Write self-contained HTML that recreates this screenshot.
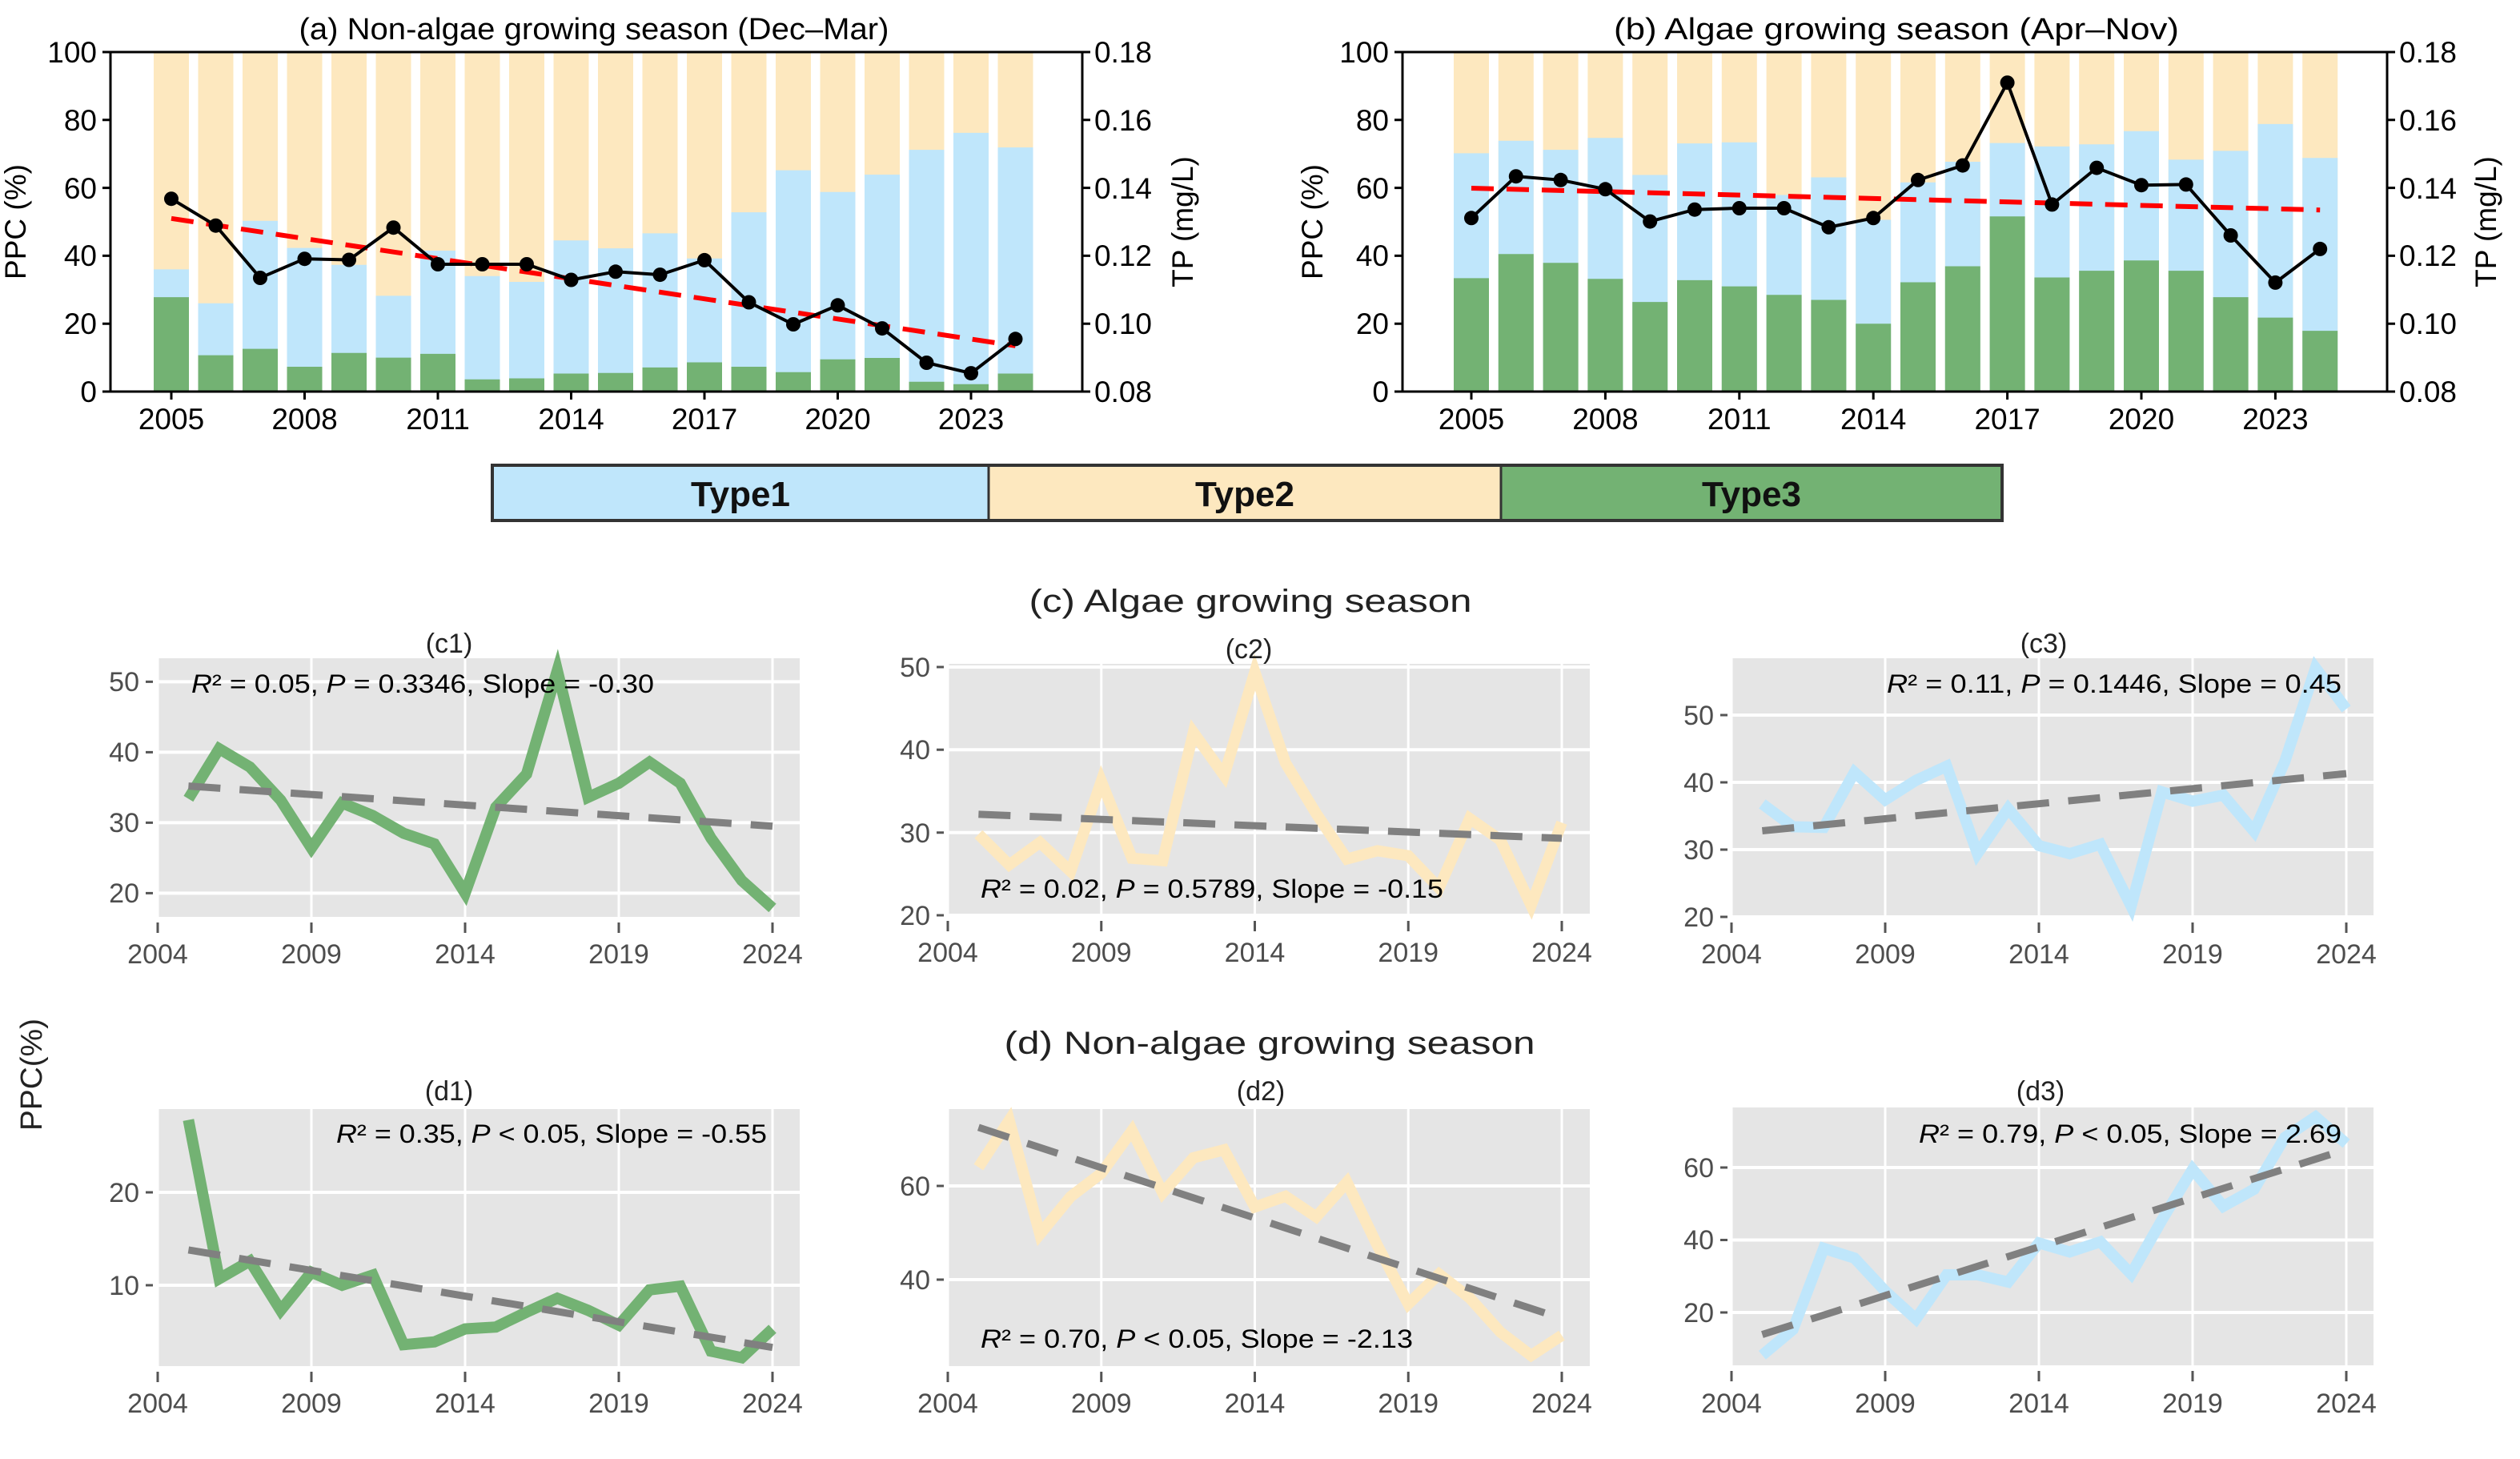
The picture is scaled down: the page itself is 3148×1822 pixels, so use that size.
<!DOCTYPE html>
<html><head><meta charset="utf-8">
<style>html,body{margin:0;padding:0;background:#fff}svg{display:block}</style>
</head><body>
<svg xmlns="http://www.w3.org/2000/svg" width="3148" height="1822" viewBox="0 0 3148 1822" font-family="Liberation Sans, Arial, sans-serif">
<!-- ===== Panel (a) ===== -->
<g stroke-width="44" fill="none">
<path stroke="#fde8bf" d="M214 65V489M269.5 65V489M325 65V489M380.5 65V489M436 65V489M491.5 65V489M547 65V489M602.5 65V489M658 65V489M713.5 65V489M769 65V489M824.5 65V489M880 65V489M935.5 65V489M991 65V489M1046.5 65V489M1102 65V489M1157.5 65V489M1213 65V489M1268.5 65V489"/>
<path stroke="#bfe6fb" d="M214 336.4V489M269.5 378.8V489M325 275.7V489M380.5 309.6V489M436 330.8V489M491.5 369.4V489M547 313V489M602.5 344.8V489M658 352V489M713.5 300.3V489M769 310.1V489M824.5 291.4V489M880 322.8V489M935.5 265.1V489M991 212.6V489M1046.5 239.7V489M1102 218.1V489M1157.5 187.1V489M1213 165.9V489M1268.5 184.1V489"/>
<path stroke="#73b273" d="M214 371.1V489M269.5 443.6V489M325 435.6V489M380.5 458V489M436 440.7V489M491.5 446.6V489M547 441.9V489M602.5 473.7V489M658 472.5V489M713.5 466.5V489M769 465.7V489M824.5 458.9V489M880 452.5V489M935.5 458V489M991 464.8V489M1046.5 448.7V489M1102 447V489M1157.5 476.7V489M1213 479.7V489M1268.5 466.5V489"/>
</g>
<line x1="214" y1="272.8" x2="1268.5" y2="431.8" stroke="#f00" stroke-width="6" stroke-dasharray="28,16"/>
<polyline fill="none" stroke="#000" stroke-width="4" points="214,248.2 269.5,281.7 325,347 380.5,323.2 436,324.5 491.5,284.2 547,330 602.5,330 658,330 713.5,349.5 769,339.3 824.5,343.1 880,324.9 935.5,377.5 991,405 1046.5,381.3 1102,410.1 1157.5,453 1213,466.1 1268.5,423.3"/>
<g fill="#000">
<circle cx="214" cy="248.2" r="9"/><circle cx="269.5" cy="281.7" r="9"/><circle cx="325" cy="347" r="9"/><circle cx="380.5" cy="323.2" r="9"/><circle cx="436" cy="324.5" r="9"/><circle cx="491.5" cy="284.2" r="9"/><circle cx="547" cy="330" r="9"/><circle cx="602.5" cy="330" r="9"/><circle cx="658" cy="330" r="9"/><circle cx="713.5" cy="349.5" r="9"/><circle cx="769" cy="339.3" r="9"/><circle cx="824.5" cy="343.1" r="9"/><circle cx="880" cy="324.9" r="9"/><circle cx="935.5" cy="377.5" r="9"/><circle cx="991" cy="405" r="9"/><circle cx="1046.5" cy="381.3" r="9"/><circle cx="1102" cy="410.1" r="9"/><circle cx="1157.5" cy="453" r="9"/><circle cx="1213" cy="466.1" r="9"/><circle cx="1268.5" cy="423.3" r="9"/>
</g>
<rect x="138" y="65" width="1214" height="424" fill="none" stroke="#000" stroke-width="3"/>
<path stroke="#000" stroke-width="3" d="M128 489H138M128 404.2H138M128 319.4H138M128 234.6H138M128 149.8H138M128 65H138M1352 489H1362M1352 404.2H1362M1352 319.4H1362M1352 234.6H1362M1352 149.8H1362M1352 65H1362M214 489V499M380.5 489V499M547 489V499M713.5 489V499M880 489V499M1046.5 489V499M1213 489V499"/>
<g font-size="37" text-anchor="end">
<text x="121" y="502">0</text><text x="121" y="417">20</text><text x="121" y="332">40</text><text x="121" y="248">60</text><text x="121" y="163">80</text><text x="121" y="78">100</text>
</g>
<g font-size="37">
<text x="1367" y="502">0.08</text><text x="1367" y="417">0.10</text><text x="1367" y="332">0.12</text><text x="1367" y="248">0.14</text><text x="1367" y="163">0.16</text><text x="1367" y="78">0.18</text>
</g>
<g font-size="37" text-anchor="middle">
<text x="214" y="536">2005</text><text x="380.5" y="536">2008</text><text x="547" y="536">2011</text><text x="713.5" y="536">2014</text><text x="880" y="536">2017</text><text x="1046.5" y="536">2020</text><text x="1213" y="536">2023</text>
<text x="742" y="49" font-size="38" textLength="737" lengthAdjust="spacingAndGlyphs">(a) Non-algae growing season (Dec–Mar)</text>
<text x="32" y="277" transform="rotate(-90 32 277)">PPC (%)</text>
<text x="1490" y="277" transform="rotate(-90 1490 277)">TP (mg/L)</text>
</g>

<!-- ===== Panel (b) ===== -->
<g stroke-width="44" fill="none">
<path stroke="#fde8bf" d="M1838 65V489M1893.8 65V489M1949.6 65V489M2005.4 65V489M2061.2 65V489M2117 65V489M2172.8 65V489M2228.6 65V489M2284.4 65V489M2340.2 65V489M2396 65V489M2451.8 65V489M2507.6 65V489M2563.4 65V489M2619.2 65V489M2675 65V489M2730.8 65V489M2786.6 65V489M2842.4 65V489M2898.2 65V489"/>
<path stroke="#bfe6fb" d="M1838 191.4V489M1893.8 175.7V489M1949.6 187.1V489M2005.4 172.3V489M2061.2 218.5V489M2117 179.1V489M2172.8 177.8V489M2228.6 243.5V489M2284.4 221.5V489M2340.2 274.5V489M2396 227.8V489M2451.8 202V489M2507.6 178.6V489M2563.4 182.9V489M2619.2 180.3V489M2675 163.8V489M2730.8 199.4V489M2786.6 188.4V489M2842.4 154.9V489M2898.2 197.3V489"/>
<path stroke="#73b273" d="M1838 347.4V489M1893.8 317.3V489M1949.6 328.3V489M2005.4 348.2V489M2061.2 377.1V489M2117 349.9V489M2172.8 357.6V489M2228.6 368.2V489M2284.4 374.5V489M2340.2 404.2V489M2396 352.5V489M2451.8 332.5V489M2507.6 270.2V489M2563.4 346.5V489M2619.2 338.1V489M2675 325.3V489M2730.8 338.1V489M2786.6 371.1V489M2842.4 396.6V489M2898.2 413.1V489"/>
</g>
<line x1="1838" y1="235" x2="2898.2" y2="262.2" stroke="#f00" stroke-width="6" stroke-dasharray="28,16"/>
<polyline fill="none" stroke="#000" stroke-width="4" points="1838,272.3 1893.8,220.2 1949.6,224.8 2005.4,236.3 2061.2,276.6 2117,261.7 2172.8,260 2228.6,260 2284.4,283.8 2340.2,272.3 2396,224.8 2451.8,206.6 2507.6,103.2 2563.4,255.4 2619.2,209.6 2675,231.2 2730.8,230.4 2786.6,294 2842.4,352.9 2898.2,310.9"/>
<g fill="#000">
<circle cx="1838" cy="272.3" r="9"/><circle cx="1893.8" cy="220.2" r="9"/><circle cx="1949.6" cy="224.8" r="9"/><circle cx="2005.4" cy="236.3" r="9"/><circle cx="2061.2" cy="276.6" r="9"/><circle cx="2117" cy="261.7" r="9"/><circle cx="2172.8" cy="260" r="9"/><circle cx="2228.6" cy="260" r="9"/><circle cx="2284.4" cy="283.8" r="9"/><circle cx="2340.2" cy="272.3" r="9"/><circle cx="2396" cy="224.8" r="9"/><circle cx="2451.8" cy="206.6" r="9"/><circle cx="2507.6" cy="103.2" r="9"/><circle cx="2563.4" cy="255.4" r="9"/><circle cx="2619.2" cy="209.6" r="9"/><circle cx="2675" cy="231.2" r="9"/><circle cx="2730.8" cy="230.4" r="9"/><circle cx="2786.6" cy="294" r="9"/><circle cx="2842.4" cy="352.9" r="9"/><circle cx="2898.2" cy="310.9" r="9"/>
</g>
<rect x="1752" y="65" width="1230" height="424" fill="none" stroke="#000" stroke-width="3"/>
<path stroke="#000" stroke-width="3" d="M1742 489H1752M1742 404.2H1752M1742 319.4H1752M1742 234.6H1752M1742 149.8H1752M1742 65H1752M2982 489H2992M2982 404.2H2992M2982 319.4H2992M2982 234.6H2992M2982 149.8H2992M2982 65H2992M1838 489V499M2005.4 489V499M2172.8 489V499M2340.2 489V499M2507.6 489V499M2675 489V499M2842.4 489V499"/>
<g font-size="37" text-anchor="end">
<text x="1735" y="502">0</text><text x="1735" y="417">20</text><text x="1735" y="332">40</text><text x="1735" y="248">60</text><text x="1735" y="163">80</text><text x="1735" y="78">100</text>
</g>
<g font-size="37">
<text x="2997" y="502">0.08</text><text x="2997" y="417">0.10</text><text x="2997" y="332">0.12</text><text x="2997" y="248">0.14</text><text x="2997" y="163">0.16</text><text x="2997" y="78">0.18</text>
</g>
<g font-size="37" text-anchor="middle">
<text x="1838" y="536">2005</text><text x="2005.4" y="536">2008</text><text x="2172.8" y="536">2011</text><text x="2340.2" y="536">2014</text><text x="2507.6" y="536">2017</text><text x="2675" y="536">2020</text><text x="2842.4" y="536">2023</text>
<text x="2369" y="49" font-size="38" textLength="706" lengthAdjust="spacingAndGlyphs">(b) Algae growing season (Apr–Nov)</text>
<text x="1652" y="277" transform="rotate(-90 1652 277)">PPC (%)</text>
<text x="3118" y="277" transform="rotate(-90 3118 277)">TP (mg/L)</text>
</g>

<!-- ===== Legend ===== -->
<rect x="615" y="581" width="620" height="69" fill="#bfe6fb"/>
<rect x="1235" y="581" width="640" height="69" fill="#fde8bf"/>
<rect x="1875" y="581" width="626" height="69" fill="#73b273"/>
<rect x="615" y="581" width="1886" height="69" fill="none" stroke="#333" stroke-width="4"/>
<path stroke="#333" stroke-width="3" d="M1235 581V650M1875 581V650"/>
<g font-size="44" font-weight="bold" text-anchor="middle" fill="#111">
<text x="925" y="632">Type1</text><text x="1555" y="632">Type2</text><text x="2188" y="632">Type3</text>
</g>

<!-- ===== Section titles ===== -->
<text x="1562" y="764" font-size="40" text-anchor="middle" fill="#222" textLength="553" lengthAdjust="spacingAndGlyphs">(c) Algae growing season</text>
<text x="1586" y="1316" font-size="40" text-anchor="middle" fill="#222" textLength="663" lengthAdjust="spacingAndGlyphs">(d) Non-algae growing season</text>
<text x="52" y="1342" font-size="38" text-anchor="middle" fill="#222" transform="rotate(-90 52 1342)" textLength="140" lengthAdjust="spacingAndGlyphs">PPC(%)</text>

<!-- ===== c1 ===== -->
<rect x="196" y="822" width="803" height="323" fill="#e5e5e5"/>
<path stroke="#fff" stroke-width="4" d="M196 1115.4H999M196 1027.4H999M196 939.4H999M196 851.4H999"/>
<path stroke="#fff" stroke-width="3" d="M197 822V1145M389 822V1145M581 822V1145M773 822V1145M965 822V1145"/>
<path stroke="#555" stroke-width="3" d="M182 1115.4H191M182 1027.4H191M182 939.4H191M182 851.4H191M197 1152V1165M389 1152V1165M581 1152V1165M773 1152V1165M965 1152V1165"/>
<g font-size="34" fill="#4d4d4d" text-anchor="end"><text x="174" y="1127">20</text><text x="174" y="1039">30</text><text x="174" y="951">40</text><text x="174" y="863">50</text></g>
<g font-size="34" fill="#4d4d4d" text-anchor="middle"><text x="197" y="1203">2004</text><text x="389" y="1203">2009</text><text x="581" y="1203">2014</text><text x="773" y="1203">2019</text><text x="965" y="1203">2024</text></g>
<polyline transform="matrix(38.4 0 0 -8.8 235.4 1291.4)" vector-effect="non-scaling-stroke" fill="none" stroke="#73b273" stroke-width="14" points="0,33.4 1,40.5 2,37.9 3,33.2 4,26.4 5,32.8 6,31 7,28.5 8,27 9,20 10,32.2 11,36.9 12,51.6 13,33.6 14,35.6 15,38.6 16,35.6 17,27.8 18,21.8 19,17.9"/>
<line x1="235.4" y1="981.6" x2="965" y2="1031.8" stroke="#808080" stroke-width="9" stroke-dasharray="40,24"/>
<text x="239" y="865" font-size="32" textLength="578" lengthAdjust="spacingAndGlyphs"><tspan font-style="italic">R</tspan>² = 0.05, <tspan font-style="italic">P</tspan> = 0.3346, Slope = -0.30</text>
<text x="561" y="815" font-size="34" text-anchor="middle" fill="#222">(c1)</text>

<!-- ===== c2 ===== -->
<rect x="1184" y="829" width="802" height="314" fill="#e5e5e5"/>
<path stroke="#fff" stroke-width="4" d="M1184 1143H1986M1184 1039.7H1986M1184 936.3H1986M1184 833H1986"/>
<path stroke="#fff" stroke-width="3" d="M1184 829V1143M1375.75 829V1143M1567.5 829V1143M1759.25 829V1143M1951 829V1143"/>
<path stroke="#555" stroke-width="3" d="M1170 1143H1179M1170 1039.7H1179M1170 936.3H1179M1170 833H1179M1184 1150V1163M1375.75 1150V1163M1567.5 1150V1163M1759.25 1150V1163M1951 1150V1163"/>
<g font-size="34" fill="#4d4d4d" text-anchor="end"><text x="1162" y="1155">20</text><text x="1162" y="1052">30</text><text x="1162" y="948">40</text><text x="1162" y="845">50</text></g>
<g font-size="34" fill="#4d4d4d" text-anchor="middle"><text x="1184" y="1201">2004</text><text x="1375.75" y="1201">2009</text><text x="1567.5" y="1201">2014</text><text x="1759.25" y="1201">2019</text><text x="1951" y="1201">2024</text></g>
<polyline transform="matrix(38.35 0 0 -10.333 1222.35 1349.67)" vector-effect="non-scaling-stroke" fill="none" stroke="#fde8bf" stroke-width="14" points="0,29.8 1,26.1 2,28.8 3,25.3 4,36.2 5,26.9 6,26.6 7,42.1 8,36.9 9,49.4 10,38.4 11,32.3 12,26.8 13,27.8 14,27.2 15,23.3 16,31.7 17,29.1 18,21.2 19,31.2"/>
<line x1="1222.35" y1="1016.9" x2="1951" y2="1046.9" stroke="#808080" stroke-width="9" stroke-dasharray="40,24"/>
<text x="1225" y="1121" font-size="32" textLength="578" lengthAdjust="spacingAndGlyphs"><tspan font-style="italic">R</tspan>² = 0.02, <tspan font-style="italic">P</tspan> = 0.5789, Slope = -0.15</text>
<text x="1560" y="822" font-size="34" text-anchor="middle" fill="#222">(c2)</text>

<!-- ===== c3 ===== -->
<rect x="2163" y="822" width="802" height="323" fill="#e5e5e5"/>
<path stroke="#fff" stroke-width="4" d="M2163 1145H2965M2163 1061H2965M2163 977H2965M2163 893H2965"/>
<path stroke="#fff" stroke-width="3" d="M2163 822V1145M2355 822V1145M2547 822V1145M2739 822V1145M2931 822V1145"/>
<path stroke="#555" stroke-width="3" d="M2149 1145H2158M2149 1061H2158M2149 977H2158M2149 893H2158M2163 1152V1165M2355 1152V1165M2547 1152V1165M2739 1152V1165M2931 1152V1165"/>
<g font-size="34" fill="#4d4d4d" text-anchor="end"><text x="2141" y="1157">20</text><text x="2141" y="1073">30</text><text x="2141" y="989">40</text><text x="2141" y="905">50</text></g>
<g font-size="34" fill="#4d4d4d" text-anchor="middle"><text x="2163" y="1203">2004</text><text x="2355" y="1203">2009</text><text x="2547" y="1203">2014</text><text x="2739" y="1203">2019</text><text x="2931" y="1203">2024</text></g>
<polyline transform="matrix(38.4 0 0 -8.4 2201.4 1313)" vector-effect="non-scaling-stroke" fill="none" stroke="#bfe6fb" stroke-width="14" points="0,36.8 1,33.4 2,33.3 3,41.5 4,37.4 5,40.3 6,42.4 7,29.4 8,36.1 9,30.6 10,29.4 11,30.8 12,21.6 13,38.6 14,37.2 15,38.1 16,32.7 17,43.1 18,57 19,50.9"/>
<line x1="2201.4" y1="1037.5" x2="2931" y2="966.1" stroke="#808080" stroke-width="9" stroke-dasharray="40,24"/>
<text x="2925" y="865" font-size="32" text-anchor="end" textLength="568" lengthAdjust="spacingAndGlyphs"><tspan font-style="italic">R</tspan>² = 0.11, <tspan font-style="italic">P</tspan> = 0.1446, Slope = 0.45</text>
<text x="2553" y="815" font-size="34" text-anchor="middle" fill="#222">(c3)</text>

<!-- ===== d1 ===== -->
<rect x="196" y="1385" width="803" height="321" fill="#e5e5e5"/>
<path stroke="#fff" stroke-width="4" d="M196 1605H999M196 1489H999"/>
<path stroke="#fff" stroke-width="3" d="M197 1385V1706M389 1385V1706M581 1385V1706M773 1385V1706M965 1385V1706"/>
<path stroke="#555" stroke-width="3" d="M182 1605H191M182 1489H191M197 1713V1726M389 1713V1726M581 1713V1726M773 1713V1726M965 1713V1726"/>
<g font-size="34" fill="#4d4d4d" text-anchor="end"><text x="174" y="1617">10</text><text x="174" y="1501">20</text></g>
<g font-size="34" fill="#4d4d4d" text-anchor="middle"><text x="197" y="1764">2004</text><text x="389" y="1764">2009</text><text x="581" y="1764">2014</text><text x="773" y="1764">2019</text><text x="965" y="1764">2024</text></g>
<polyline transform="matrix(38.4 0 0 -11.6 235.4 1721)" vector-effect="non-scaling-stroke" fill="none" stroke="#73b273" stroke-width="14" points="0,27.8 1,10.7 2,12.6 3,7.3 4,11.4 5,10 6,11.1 7,3.6 8,3.9 9,5.3 10,5.5 11,7.1 12,8.6 13,7.3 14,5.7 15,9.5 16,9.9 17,2.9 18,2.2 19,5.3"/>
<line x1="235.4" y1="1560.9" x2="965" y2="1682.7" stroke="#808080" stroke-width="9" stroke-dasharray="40,24"/>
<text x="958" y="1427" font-size="32" text-anchor="end" textLength="538" lengthAdjust="spacingAndGlyphs"><tspan font-style="italic">R</tspan>² = 0.35, <tspan font-style="italic">P</tspan> &lt; 0.05, Slope = -0.55</text>
<text x="561" y="1374" font-size="34" text-anchor="middle" fill="#222">(d1)</text>

<!-- ===== d2 ===== -->
<rect x="1184" y="1385" width="802" height="321" fill="#e5e5e5"/>
<path stroke="#fff" stroke-width="4" d="M1184 1598H1986M1184 1481H1986"/>
<path stroke="#fff" stroke-width="3" d="M1184 1385V1706M1375.75 1385V1706M1567.5 1385V1706M1759.25 1385V1706M1951 1385V1706"/>
<path stroke="#555" stroke-width="3" d="M1170 1598H1179M1170 1481H1179M1184 1713V1726M1375.75 1713V1726M1567.5 1713V1726M1759.25 1713V1726M1951 1713V1726"/>
<g font-size="34" fill="#4d4d4d" text-anchor="end"><text x="1162" y="1610">40</text><text x="1162" y="1493">60</text></g>
<g font-size="34" fill="#4d4d4d" text-anchor="middle"><text x="1184" y="1764">2004</text><text x="1375.75" y="1764">2009</text><text x="1567.5" y="1764">2014</text><text x="1759.25" y="1764">2019</text><text x="1951" y="1764">2024</text></g>
<polyline transform="matrix(38.35 0 0 -5.85 1222.35 1832)" vector-effect="non-scaling-stroke" fill="none" stroke="#fde8bf" stroke-width="14" points="0,64 1,74 2,49.7 3,57.7 4,62.7 5,71.8 6,58.5 7,66 8,67.7 9,55.5 10,57.8 11,53.4 12,60.8 13,47.2 14,34.8 15,41.2 16,36.1 17,28.8 18,23.8 19,28.1"/>
<line x1="1222.35" y1="1407.9" x2="1951" y2="1646.6" stroke="#808080" stroke-width="9" stroke-dasharray="40,24"/>
<text x="1225" y="1683" font-size="32" textLength="540" lengthAdjust="spacingAndGlyphs"><tspan font-style="italic">R</tspan>² = 0.70, <tspan font-style="italic">P</tspan> &lt; 0.05, Slope = -2.13</text>
<text x="1575" y="1374" font-size="34" text-anchor="middle" fill="#222">(d2)</text>

<!-- ===== d3 ===== -->
<rect x="2163" y="1383" width="802" height="322" fill="#e5e5e5"/>
<path stroke="#fff" stroke-width="4" d="M2163 1639H2965M2163 1548.5H2965M2163 1458H2965"/>
<path stroke="#fff" stroke-width="3" d="M2163 1383V1705M2355 1383V1705M2547 1383V1705M2739 1383V1705M2931 1383V1705"/>
<path stroke="#555" stroke-width="3" d="M2149 1639H2158M2149 1548.5H2158M2149 1458H2158M2163 1712V1725M2355 1712V1725M2547 1712V1725M2739 1712V1725M2931 1712V1725"/>
<g font-size="34" fill="#4d4d4d" text-anchor="end"><text x="2141" y="1651">20</text><text x="2141" y="1560">40</text><text x="2141" y="1470">60</text></g>
<g font-size="34" fill="#4d4d4d" text-anchor="middle"><text x="2163" y="1764">2004</text><text x="2355" y="1764">2009</text><text x="2547" y="1764">2014</text><text x="2739" y="1764">2019</text><text x="2931" y="1764">2024</text></g>
<polyline transform="matrix(38.4 0 0 -4.525 2201.4 1729.5)" vector-effect="non-scaling-stroke" fill="none" stroke="#bfe6fb" stroke-width="14" points="0,8.2 1,15.3 2,37.7 3,35 4,25.9 5,18.2 6,30.4 7,30.4 8,28.4 9,39.2 10,36.7 11,39.5 12,30.6 13,45.5 14,59.5 15,49.3 16,54 17,68.3 18,74 19,66.6"/>
<line x1="2201.4" y1="1666.6" x2="2931" y2="1435.4" stroke="#808080" stroke-width="9" stroke-dasharray="40,24"/>
<text x="2925" y="1427" font-size="32" text-anchor="end" textLength="528" lengthAdjust="spacingAndGlyphs"><tspan font-style="italic">R</tspan>² = 0.79, <tspan font-style="italic">P</tspan> &lt; 0.05, Slope = 2.69</text>
<text x="2549" y="1374" font-size="34" text-anchor="middle" fill="#222">(d3)</text>
</svg>
</body></html>
